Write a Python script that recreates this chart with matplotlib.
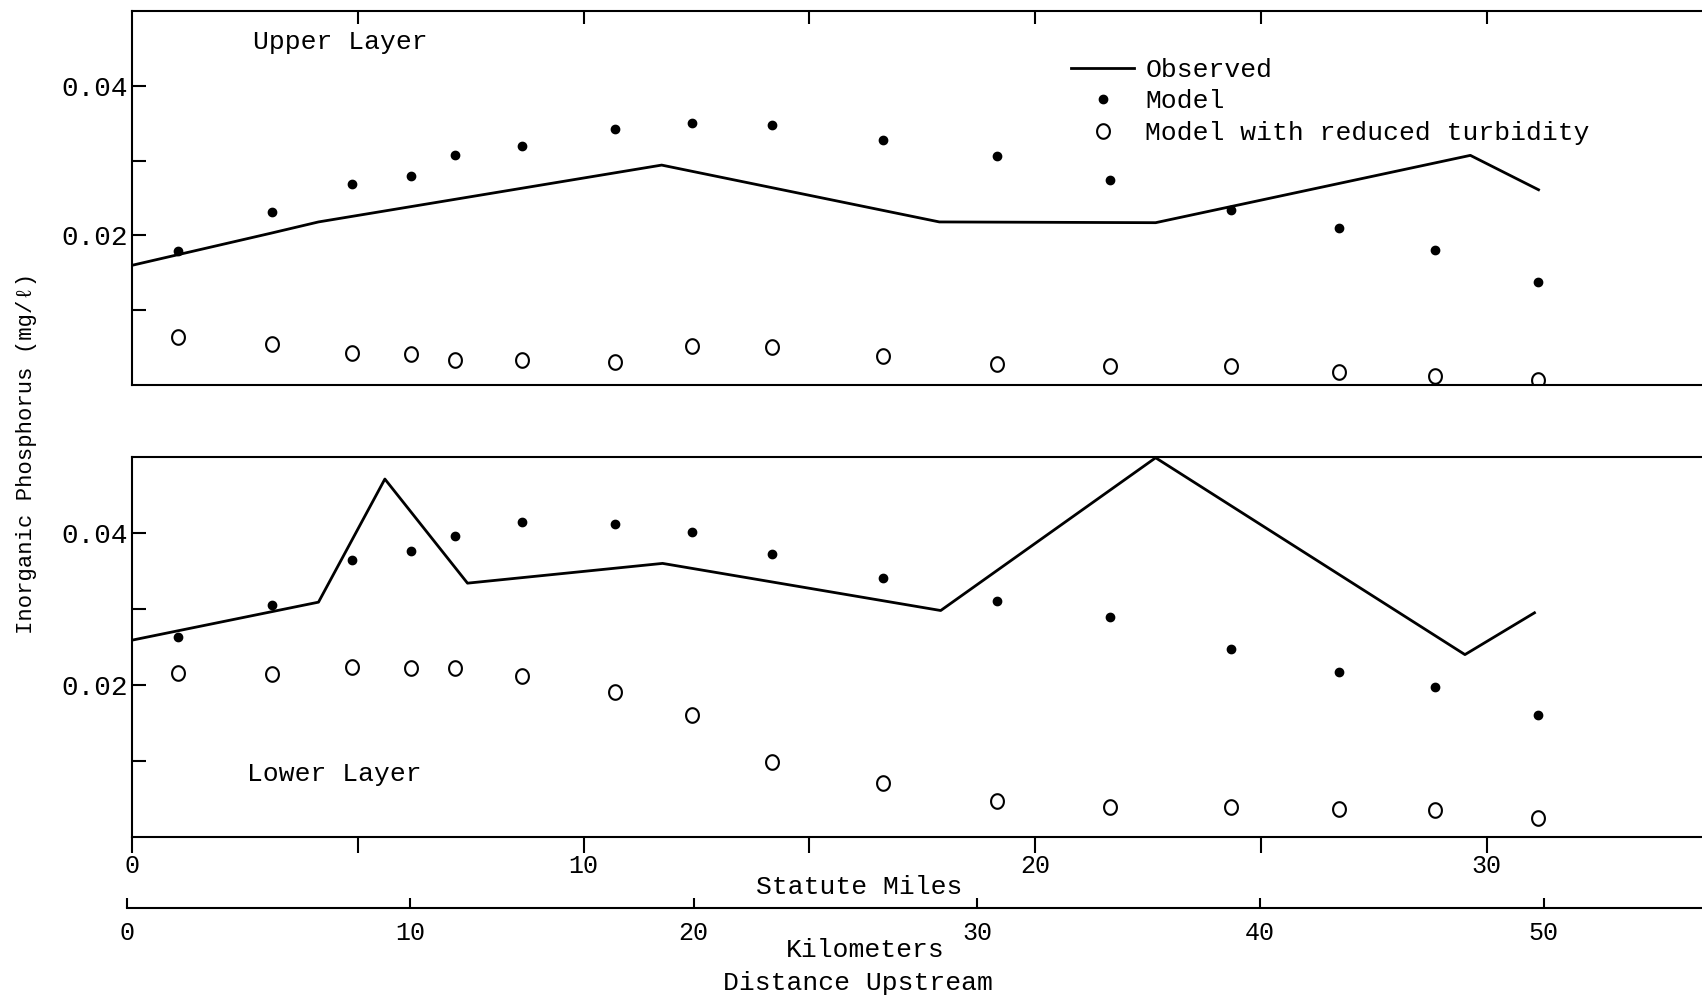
import numpy as np
import matplotlib
matplotlib.use("Agg")
import matplotlib.pyplot as plt
from matplotlib.path import Path

plt.rcParams['font.family'] = ['Liberation Mono', 'DejaVu Sans Mono', 'DejaVu Sans']

# sampling stations, statute miles upstream
station_mi = [1.02, 3.10, 4.88, 6.18, 7.15, 8.63, 10.70, 12.40, 14.18,
              16.63, 19.15, 21.66, 24.35, 26.73, 28.85, 31.13]

# upper layer (mg/l)
upper_obs_mi = [0.0, 3.08, 4.13, 11.73, 17.88, 22.67, 29.64, 31.15]
upper_obs = [0.0160, 0.0203, 0.0218, 0.0294, 0.0218, 0.0217, 0.0307, 0.0261]
upper_model = [0.0179, 0.0231, 0.0269, 0.0280, 0.0308, 0.0319, 0.0342, 0.0350,
               0.0348, 0.0328, 0.0306, 0.0274, 0.0234, 0.0210, 0.0181, 0.0138]
upper_reduced = [0.0064, 0.0055, 0.0043, 0.0042, 0.0033, 0.0034, 0.0031, 0.0052,
                 0.0051, 0.0039, 0.0028, 0.0026, 0.0025, 0.0017, 0.0012, 0.0007]

# lower layer (mg/l)
lower_obs_mi = [0.0, 4.13, 5.60, 7.43, 11.75, 17.91, 22.67, 29.52, 31.06]
lower_obs = [0.0259, 0.0309, 0.0471, 0.0334, 0.0360, 0.0298, 0.0499, 0.0240, 0.0295]
lower_model = [0.0263, 0.0305, 0.0364, 0.0376, 0.0396, 0.0415, 0.0412, 0.0401,
               0.0372, 0.0341, 0.0311, 0.0289, 0.0248, 0.0217, 0.0197, 0.0161]
lower_reduced = [0.0216, 0.0214, 0.0224, 0.0223, 0.0223, 0.0212, 0.0191, 0.0161,
                 0.0099, 0.0071, 0.0047, 0.0039, 0.0039, 0.0037, 0.0035, 0.0025]

mile_ticks = [0, 5, 10, 15, 20, 25, 30]
mile_labels = ['0', '', '10', '', '20', '', '30']
km_ticks = [0, 10, 20, 30, 40, 50]
conc_ticks = [0.01, 0.02, 0.03, 0.04]
conc_labels = ['', '0.02', '', '0.04']

# typed "o" look for the open circles
t = np.linspace(0, 2 * np.pi, 60)
oval = Path(np.column_stack([0.88 * np.cos(t), np.sin(t)]), closed=True)

W, H = 1702, 996
fig = plt.figure(figsize=(W / 100, H / 100), dpi=100)
ax_up = fig.add_axes([132 / W, 1 - 385 / H, 1 - 132 / W, 374 / H])
ax_lo = fig.add_axes([132 / W, 1 - 837 / H, 1 - 132 / W, 380 / H])
ax_km = fig.add_axes([127 / W, 1 - 908 / H, 1 - 127 / W, 0.0001])

xmax = 34.77

for ax, obs_mi, obs, model, reduced in [
        (ax_up, upper_obs_mi, upper_obs, upper_model, upper_reduced),
        (ax_lo, lower_obs_mi, lower_obs, lower_model, lower_reduced)]:
    ax.plot(obs_mi, obs, color='black', lw=2.0, label='Observed')
    ax.plot(station_mi, model, linestyle='none', marker='o', ms=6,
            color='black', label='Model')
    ax.plot(station_mi, reduced, linestyle='none', marker=oval, ms=10.5,
            mfc='none', mec='black', mew=1.5,
            label='Model with reduced turbidity')
    ax.set_xlim(0, xmax)
    ax.set_ylim(0, 0.05)
    ax.spines['right'].set_visible(False)
    for s in ['left', 'top', 'bottom']:
        ax.spines[s].set_linewidth(1.5)
    ax.set_yticks(conc_ticks)
    ax.set_yticklabels(conc_labels)
    ax.tick_params(axis='y', direction='in', length=10, width=1.5,
                   labelsize=20, pad=3)

# upper panel: inward ticks on top only
ax_up.set_xticks(mile_ticks[1:])
ax_up.tick_params(axis='x', direction='in', top=True, bottom=False,
                  labelbottom=False, length=9, width=1.5)
ax_up.text(2.69, 0.0458, 'Upper Layer', fontsize=19, va='center')

# lower panel: outward miles ticks below
ax_lo.set_xticks(mile_ticks)
ax_lo.set_xticklabels(mile_labels)
ax_lo.tick_params(axis='x', direction='out', length=11.5, width=1.5,
                  labelsize=18, pad=1)
ax_lo.text(2.55, 0.0083, 'Lower Layer', fontsize=19, va='center')

# kilometre scale
ax_km.set_xlim(0, (W - 127) / 28.33)
ax_km.set_ylim(0, 1)
ax_km.set_yticks([])
for s in ['left', 'right', 'top']:
    ax_km.spines[s].set_visible(False)
ax_km.spines['bottom'].set_linewidth(1.5)
ax_km.set_xticks(km_ticks)
ax_km.set_xticklabels([str(k) for k in km_ticks])
ax_km.tick_params(axis='x', direction='in', length=7, width=1.5,
                  labelsize=18, pad=9)
ax_km.patch.set_visible(False)

ax_up.legend(loc='upper left', bbox_to_anchor=(1071 / W, 1 - 58 / H),
             bbox_transform=fig.transFigure, frameon=False, fontsize=19,
             handlelength=2.4, handletextpad=0.42, labelspacing=0.28,
             borderpad=0, borderaxespad=0)

fig.text(27 / W, 1 - 453 / H, 'Inorganic Phosphorus (mg/\u2113)',
         rotation=90, ha='center', va='center', fontsize=16)
fig.text(859 / W, 1 - 887 / H, 'Statute Miles', ha='center', va='center', fontsize=19)
fig.text(865 / W, 1 - 950 / H, 'Kilometers', ha='center', va='center', fontsize=19)
fig.text(858 / W, 1 - 983 / H, 'Distance Upstream', ha='center', va='center', fontsize=19)

fig.savefig('out.png', dpi=100)
